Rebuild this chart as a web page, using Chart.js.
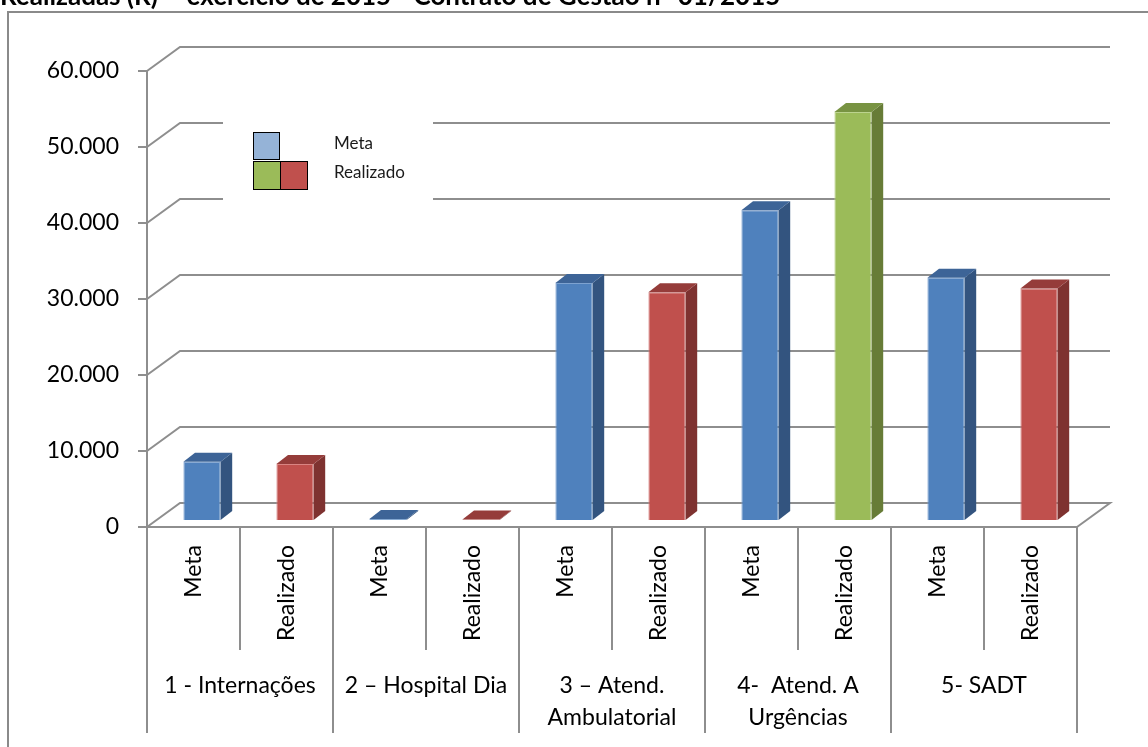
<!DOCTYPE html>
<html>
<head>
<meta charset="utf-8">
<script src="https://cdn.jsdelivr.net/npm/chart.js@4.4.1/dist/chart.umd.min.js"></script>
<style>
  html, body { margin: 0; padding: 0; background: #ffffff; overflow: hidden; }
  #c { display: block; }
</style>
</head>
<body>
<canvas id="c" width="1148" height="747"></canvas>
<script>
// ---- data ----
const titleText = 'Realizadas (R)  - exercício de 2015 - Contrato de Gestão n° 01/2015';
const groupLabels = [
  ['1 - Internações'],
  ['2 – Hospital Dia'],
  ['3 – Atend.', 'Ambulatorial'],
  ['4-  Atend. A', 'Urgências'],
  ['5- SADT']
];
const seriesNames = ['Meta', 'Realizado'];
const metaValues = [7800, 250, 31300, 40900, 32000];
const realizadoValues = [7500, 200, 30100, 53800, 30600];
const yTickValues = [0, 10000, 20000, 30000, 40000, 50000, 60000];

// ---- styling ----
const GRID = '#8e8e8e';
const PALETTE = {
  blue:  { front: '#4F81BD', side: '#33547F', top: '#3D6497', edge: '#7DA2D0' },
  red:   { front: '#C0504D', side: '#7E3230', top: '#953C3A', edge: '#D98482' },
  green: { front: '#9BBB59', side: '#677C37', top: '#789342', edge: '#BCD38E' }
};
const realizadoTone = ['red', 'red', 'red', 'green', 'red'];
const legendSwatch = { meta: '#95B3D7', green: '#9BBB59', red: '#C0504D' };

const DEPTH = { x: 33, y: -24 };       // floor / back wall depth
const BAR_SHIFT = { x: 8.5, y: -6 };   // front face of the bars inside the depth
const BAR_DEPTH = { x: 11.6, y: -9 };  // thickness of each bar

const fmt = v => String(v).replace(/\B(?=(\d{3})+(?!\d))/g, '.');

// category axis: one slot per series inside each group
const categories = [];
const metaData = [];
const realData = [];
const metaTone = [];
const realTone = [];
groupLabels.forEach((g, i) => {
  categories.push(seriesNames[0], seriesNames[1]);
  metaData.push(metaValues[i], null);
  realData.push(null, realizadoValues[i]);
  metaTone.push('blue', 'blue');
  realTone.push(realizadoTone[i], realizadoTone[i]);
});

const pick = (tones, key) => tones.map(t => PALETTE[t][key]);

const cubePlugin = {
  id: 'cube',
  beforeDraw(chart) {
    const ctx = chart.ctx;
    ctx.save();
    ctx.fillStyle = '#ffffff';
    ctx.fillRect(0, 0, chart.width, chart.height);
    // outer frame
    ctx.strokeStyle = '#8a8a8a';
    ctx.lineWidth = 2;
    ctx.beginPath();
    ctx.moveTo(8, chart.height + 5);
    ctx.lineTo(8, 12);
    ctx.lineTo(chart.width + 5, 12);
    ctx.stroke();
    ctx.restore();
  },
  beforeDatasetsDraw(chart) {
    const ctx = chart.ctx;
    const ys = chart.scales.y;
    const a = chart.chartArea;
    ctx.save();
    ctx.strokeStyle = GRID;
    ctx.lineWidth = 2;
    ctx.lineJoin = 'miter';
    yTickValues.forEach(v => {
      const y = ys.getPixelForValue(v);
      ctx.beginPath();
      ctx.moveTo(a.left, y);
      ctx.lineTo(a.left + DEPTH.x, y + DEPTH.y);
      ctx.lineTo(a.right + DEPTH.x, y + DEPTH.y);
      if (v === 0) ctx.lineTo(a.right, y);
      ctx.stroke();
    });
    // legend panel sits over the back wall
    ctx.fillStyle = '#ffffff';
    ctx.fillRect(223, 110, 210, 98);
    ctx.lineWidth = 1;
    ctx.strokeStyle = '#000000';
    const sw = [
      [253.5, 132.5, 26, 27, legendSwatch.meta],
      [253.5, 161.5, 27, 28, legendSwatch.green],
      [280.5, 161.5, 27, 28, legendSwatch.red]
    ];
    sw.forEach(([x, y, w, h, c]) => {
      ctx.fillStyle = c;
      ctx.fillRect(x, y, w, h);
      ctx.strokeRect(x, y, w, h);
    });
    ctx.fillStyle = '#1a1a1a';
    ctx.font = '17px Lato';
    ctx.textBaseline = 'middle';
    ctx.textAlign = 'left';
    ctx.fillText(seriesNames[0], 334, 144);
    ctx.fillText(seriesNames[1], 334, 173);
    ctx.restore();

    // bars are drawn a little way into the depth of the floor
    ctx.save();
    ctx.translate(BAR_SHIFT.x, BAR_SHIFT.y);
  },
  afterDatasetsDraw(chart) {
    const ctx = chart.ctx;
    chart.data.datasets.forEach((ds, di) => {
      const meta = chart.getDatasetMeta(di);
      meta.data.forEach((el, i) => {
        const v = ds.data[i];
        if (v === null || v === undefined) return;
        const p = el.getProps(['x', 'y', 'base', 'width'], true);
        const l = p.x - p.width / 2, r = p.x + p.width / 2;
        const t = Math.min(p.y, p.base), b = Math.max(p.y, p.base);
        const tone = ds.tones[i];
        // side face
        ctx.fillStyle = PALETTE[tone].side;
        ctx.beginPath();
        ctx.moveTo(r, t);
        ctx.lineTo(r + BAR_DEPTH.x, t + BAR_DEPTH.y);
        ctx.lineTo(r + BAR_DEPTH.x, b + BAR_DEPTH.y);
        ctx.lineTo(r, b);
        ctx.closePath();
        ctx.fill();
        // top face
        ctx.fillStyle = PALETTE[tone].top;
        ctx.beginPath();
        ctx.moveTo(l, t);
        ctx.lineTo(l + BAR_DEPTH.x, t + BAR_DEPTH.y);
        ctx.lineTo(r + BAR_DEPTH.x, t + BAR_DEPTH.y);
        ctx.lineTo(r, t);
        ctx.closePath();
        ctx.fill();
      });
    });
    ctx.restore();
  },
  afterDraw(chart) {
    const ctx = chart.ctx;
    const xs = chart.scales.x;
    const a = chart.chartArea;
    const cell = xs.getPixelForValue(1) - xs.getPixelForValue(0);
    const boundary = i => xs.getPixelForValue(0) - cell / 2 + i * cell;
    ctx.save();
    ctx.strokeStyle = GRID;
    ctx.lineWidth = 2;
    for (let i = 0; i <= categories.length; i++) {
      const x = Math.round(boundary(i));
      ctx.beginPath();
      ctx.moveTo(x, a.bottom);
      ctx.lineTo(x, i % 2 === 0 ? 733 : 650);
      ctx.stroke();
    }
    // group captions under the series labels
    ctx.fillStyle = '#000000';
    ctx.font = '23px Lato';
    ctx.textAlign = 'center';
    ctx.textBaseline = 'middle';
    groupLabels.forEach((lines, g) => {
      const cx = (boundary(2 * g) + boundary(2 * g + 2)) / 2;
      lines.forEach((txt, k) => ctx.fillText(txt, cx, 686 + k * 32));
    });
    // heading, partly above the top edge
    ctx.font = 'bold 26px Lato';
    ctx.textAlign = 'left';
    ctx.textBaseline = 'alphabetic';
    ctx.fillText(titleText, 0, 5);
    ctx.restore();
  }
};

new Chart(document.getElementById('c'), {
  type: 'bar',
  data: {
    labels: categories,
    datasets: [
      {
        label: seriesNames[0],
        data: metaData,
        tones: metaTone,
        backgroundColor: pick(metaTone, 'front'),
        borderColor: pick(metaTone, 'edge'),
        borderWidth: 1,
        grouped: false,
        categoryPercentage: 1,
        barPercentage: 0.4
      },
      {
        label: seriesNames[1],
        data: realData,
        tones: realTone,
        backgroundColor: pick(realTone, 'front'),
        borderColor: pick(realTone, 'edge'),
        borderWidth: 1,
        grouped: false,
        categoryPercentage: 1,
        barPercentage: 0.4
      }
    ]
  },
  options: {
    responsive: false,
    animation: false,
    devicePixelRatio: 1,
    layout: { padding: { left: 0, top: 71, right: 71, bottom: 0 } },
    plugins: { legend: { display: false }, tooltip: { enabled: false }, title: { display: false } },
    scales: {
      x: {
        grid: { display: false, drawTicks: false },
        border: { display: true, color: GRID, width: 2 },
        ticks: {
          minRotation: 90, maxRotation: 90, autoSkip: false, padding: 18,
          color: '#000000', font: { family: 'Lato', size: 23 }
        },
        afterFit(s) { s.height = 220; }
      },
      y: {
        min: 0, max: 60000,
        afterBuildTicks(s) { s.ticks = yTickValues.map(v => ({ value: v })); },
        grid: { drawOnChartArea: false, drawTicks: true, tickLength: 9, color: GRID, lineWidth: 2 },
        border: { display: true, color: GRID, width: 2 },
        ticks: {
          padding: 19, color: '#000000', font: { family: 'Lato', size: 23 },
          callback: v => fmt(v)
        },
        afterFit(s) { s.width = 147; }
      }
    }
  },
  plugins: [cubePlugin]
});
</script>
</body>
</html>
